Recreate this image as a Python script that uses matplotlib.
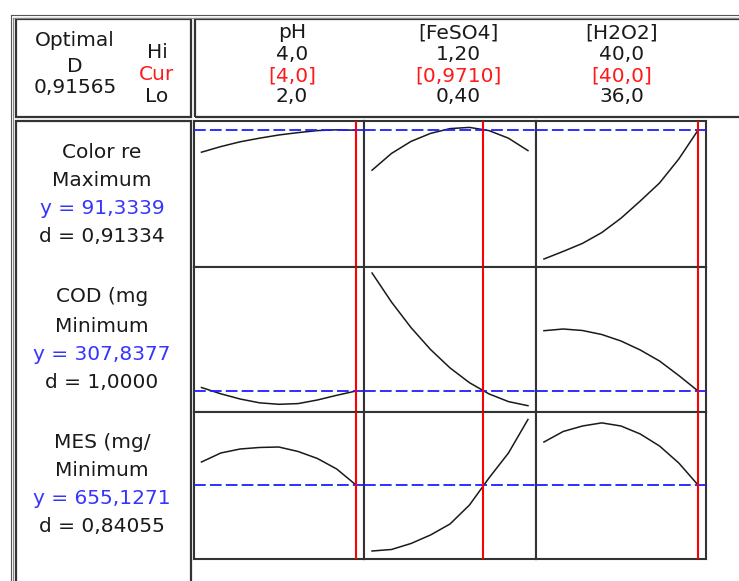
import matplotlib
matplotlib.use('Agg')
import matplotlib.pyplot as plt
from matplotlib.patches import Rectangle
from matplotlib.lines import Line2D

W, H = 739, 581

# factors (columns)
factors = ['pH', '[FeSO4]', '[H2O2]']
hi_labels = ['4,0', '1,20', '40,0']
cur_labels = ['[4,0]', '[0,9710]', '[40,0]']
lo_labels = ['2,0', '0,40', '36,0']
lo_vals = [2.0, 0.40, 36.0]
hi_vals = [4.0, 1.20, 40.0]
cur_vals = [4.0, 0.9710, 40.0]

ph_x = [2.0, 2.25, 2.5, 2.75, 3.0, 3.25, 3.5, 3.75, 4.0]
feso4_x = [0.40, 0.50, 0.60, 0.70, 0.80, 0.90, 1.00, 1.10, 1.20]
h2o2_x = [36.0, 36.5, 37.0, 37.5, 38.0, 38.5, 39.0, 39.5, 40.0]

# responses (rows)
responses = ['Color re', 'COD (mg', 'MES (mg/']
goals = ['Maximum', 'Minimum', 'Minimum']
y_labels = ['y = 91,3339', 'y = 307,8377', 'y = 655,1271']
d_labels = ['d = 0,91334', 'd = 1,0000', 'd = 0,84055']
y_pred = [91.3339, 307.8377, 655.1271]
D_label = '0,91565'

color_re = [[85.8, 87.2, 88.4, 89.3, 90.1, 90.7, 91.2, 91.4, 91.3],
            [81.3, 85.5, 88.5, 90.5, 91.7, 92.0, 91.2, 89.3, 86.2],
            [59.1, 61.0, 63.0, 65.7, 69.3, 73.6, 78.1, 84.1, 91.3]]
cod = [[314.8, 302.2, 291.8, 284.2, 281.2, 282.6, 289.8, 299.2, 307.8],
       [543.8, 485.6, 434.6, 390.8, 354.0, 324.4, 302.0, 286.6, 278.4],
       [428.4, 431.8, 428.8, 420.8, 407.8, 389.8, 367.8, 338.8, 307.8]]
mes = [[712.6, 735.1, 745.1, 748.9, 750.1, 738.9, 721.4, 695.1, 655.1],
       [490.1, 493.9, 508.9, 530.1, 557.6, 605.1, 672.6, 735.1, 818.9],
       [762.6, 788.9, 802.6, 810.4, 802.6, 782.6, 752.6, 710.1, 655.1]]
ylims = [(57.1, 93.6), (265.8, 555.8), (470.1, 837.6)]

xs = [ph_x, feso4_x, h2o2_x]
curves = [color_re, cod, mes]

# layout in pixels
col_px = [193.5, 364, 536, 706]
row_px = [121, 267, 412, 559]
fac_cx = [292, 458, 622]
head_y = [33, 55, 76, 97]
lab_cx = 102
lab_y = [[152, 181, 209, 237], [297, 327, 354, 383], [442, 470, 499, 527]]

TXT = '#1a1a1a'
BLUE = '#3535ff'
RED = '#ff1a1a'
EDGE = '#333333'
FS = 14.5

def fx(x):
    return x / W

def fy(y):
    return 1 - y / H

fig = plt.figure(figsize=(W / 100, H / 100), dpi=100)
fig.patch.set_facecolor('white')

def box(x0, y0, x1, y1, lw=1.6, ec=EDGE):
    fig.patches.append(Rectangle((fx(x0), fy(y1)), (x1 - x0) / W, (y1 - y0) / H,
                                 fill=False, lw=lw, ec=ec,
                                 transform=fig.transFigure, figure=fig))

def line(x0, y0, x1, y1, lw=0.8, c='#666666'):
    fig.lines.append(Line2D([fx(x0), fx(x1)], [fy(y0), fy(y1)], lw=lw, color=c,
                            transform=fig.transFigure, figure=fig))

# outer double frame
line(11, 15, 745, 15, c='#555555')
line(13, 17.5, 745, 17.5, c='#888888')
line(11, 15, 11, 590, c='#555555')
line(13, 17.5, 13, 590, c='#888888')

# header boxes and label box
box(16, 19, 190.7, 116.7)
box(195, 19, 760, 116.7)
box(16, 121, 191, 600)

# header text
fig.text(fx(75), fy(40), 'Optimal', ha='center', va='center', fontsize=FS, color=TXT)
fig.text(fx(75), fy(66), 'D', ha='center', va='center', fontsize=FS, color=TXT)
fig.text(fx(75), fy(87), D_label, ha='center', va='center', fontsize=FS, color=TXT)
fig.text(fx(157), fy(53), 'Hi', ha='center', va='center', fontsize=FS, color=TXT)
fig.text(fx(157), fy(75), 'Cur', ha='center', va='center', fontsize=FS, color=RED)
fig.text(fx(157), fy(97), 'Lo', ha='center', va='center', fontsize=FS, color=TXT)

for j in range(3):
    fig.text(fx(fac_cx[j]), fy(head_y[0]), factors[j], ha='center', va='center', fontsize=FS, color=TXT)
    fig.text(fx(fac_cx[j]), fy(head_y[1]), hi_labels[j], ha='center', va='center', fontsize=FS, color=TXT)
    fig.text(fx(fac_cx[j]), fy(head_y[2]), cur_labels[j], ha='center', va='center', fontsize=FS, color=RED)
    fig.text(fx(fac_cx[j]), fy(head_y[3]), lo_labels[j], ha='center', va='center', fontsize=FS, color=TXT)

for i in range(3):
    ly = lab_y[i]
    fig.text(fx(lab_cx), fy(ly[0]), responses[i], ha='center', va='center', fontsize=FS, color=TXT)
    fig.text(fx(lab_cx), fy(ly[1]), goals[i], ha='center', va='center', fontsize=FS, color=TXT)
    fig.text(fx(lab_cx), fy(ly[2]), y_labels[i], ha='center', va='center', fontsize=FS, color=BLUE)
    fig.text(fx(lab_cx), fy(ly[3]), d_labels[i], ha='center', va='center', fontsize=FS, color=TXT)

# the 3x3 grid of panels
for i in range(3):
    for j in range(3):
        ax = fig.add_axes([fx(col_px[j]), fy(row_px[i + 1]),
                           (col_px[j + 1] - col_px[j]) / W,
                           (row_px[i + 1] - row_px[i]) / H])
        pad = (hi_vals[j] - lo_vals[j]) * 8 / 155
        ax.set_xlim(lo_vals[j] - pad, hi_vals[j] + pad)
        ax.set_ylim(*ylims[i])
        ax.plot(xs[j], curves[i][j], color='#1a1a1a', lw=1.1, zorder=2)
        ax.axhline(y_pred[i], color='#1f1fff', lw=1.3, dashes=(6.5, 2.3), zorder=3)
        ax.axvline(cur_vals[j], color='#ff0000', lw=1.5, zorder=4)
        ax.set_xticks([])
        ax.set_yticks([])
        for s in ax.spines.values():
            s.set_color(EDGE)
            s.set_linewidth(1.5)

fig.savefig('out.png', dpi=100)
